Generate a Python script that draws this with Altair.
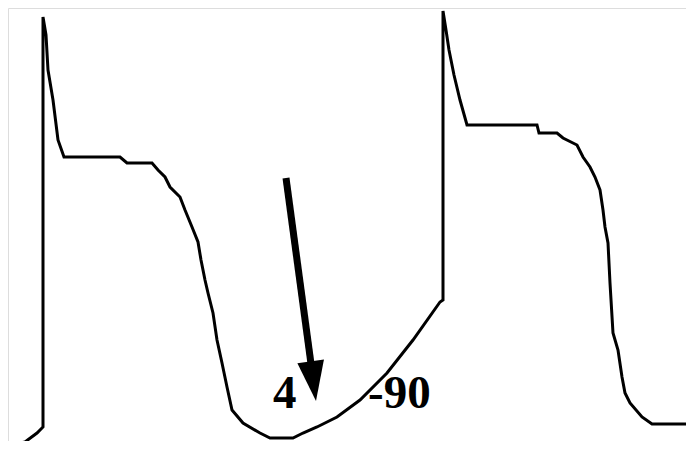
import altair as alt
import pandas as pd
import math

# Trace of the action-potential waveform (t: horizontal units, v: vertical units, up = positive)
t_vals = [10, 25, 37, 43, 43, 46, 48, 53, 58, 64, 120, 127, 152, 158, 165, 170, 180, 185, 192,
          198, 201, 205, 208, 213, 217, 222, 227, 232, 243, 260, 270, 293, 303, 317, 337, 360,
          387, 413, 440, 443,
          443, 446, 449, 454, 460, 467, 537, 539, 557, 563, 577, 583, 590, 595, 600, 603, 605,
          608, 610, 613, 618, 622, 625, 630, 642, 652, 694]
y_pix = [445, 442, 433, 427, 17, 35, 70, 100, 140, 157, 157, 163, 163, 170, 177, 187, 197, 210, 227,
         242, 260, 280, 293, 313, 340, 363, 387, 410, 423, 433, 438, 438, 433, 427, 417, 400,
         373, 340, 302, 300,
         11, 30, 50, 75, 100, 125, 125, 133, 133, 138, 145, 157, 167, 177, 190, 210, 227,
         243, 283, 333, 350, 377, 393, 403, 417, 424, 424]
v_vals = [449 - y for y in y_pix]

# Arrow (shaft start, head tip) and labels
arrow_t = [286, 316]
arrow_v = [449 - 178, 449 - 401]
label_text = ["4", "-90"]
label_t = [273, 368]
label_v = [449 - 408, 449 - 408]

wave = pd.DataFrame({"t": t_vals, "v": v_vals, "order": list(range(len(t_vals)))})

dx = arrow_t[1] - arrow_t[0]
dy = arrow_v[0] - arrow_v[1]
ang = math.degrees(math.atan2(dx, dy))
head_len = 40
ln = math.hypot(dx, dy)
shaft_end_t = arrow_t[1] - dx / ln * (head_len - 4)
shaft_end_v = arrow_v[1] + dy / ln * (head_len - 4)
head_c_t = arrow_t[1] - dx / ln * head_len / 2
head_c_v = arrow_v[1] + dy / ln * head_len / 2

shaft = pd.DataFrame({"t": [arrow_t[0]], "v": [arrow_v[0]], "t2": [shaft_end_t], "v2": [shaft_end_v]})
head = pd.DataFrame({"t": [head_c_t], "v": [head_c_v]})
labels = pd.DataFrame({"t": label_t, "v": label_v, "text": label_text})

xs = alt.Scale(domain=[8, 686], nice=False, zero=False)
ys = alt.Scale(domain=[8, 441], nice=False, zero=False)
X = alt.X("t:Q", scale=xs, axis=None)
Y = alt.Y("v:Q", scale=ys, axis=None)

line = alt.Chart(wave).mark_line(color="black", strokeWidth=3, clip=False).encode(
    x=X, y=Y, order="order:Q")

shaft_mark = alt.Chart(shaft).mark_rule(color="black", strokeWidth=7).encode(
    x=X, y=Y, x2="t2:Q", y2="v2:Q")

head_mark = alt.Chart(head).mark_point(
    shape="M-0.67,-1L0.67,-1L0,1Z", filled=True, color="black", opacity=1,
    size=head_len * head_len, angle=(360 - ang) % 360, strokeWidth=0).encode(x=X, y=Y)

text_mark = alt.Chart(labels).mark_text(
    font="Liberation Serif", fontWeight="bold", fontSize=47, color="black",
    align="left", baseline="alphabetic").encode(x=X, y=Y, text="text:N")

chart = alt.layer(line, shaft_mark, head_mark, text_mark).properties(
    width=678, height=433, padding=0, autosize=alt.AutoSizeParams(type="none")
).configure_view(stroke="transparent", strokeWidth=0).configure(background="white")

chart.save("out.html", embed_options={"renderer": "svg", "actions": False})
